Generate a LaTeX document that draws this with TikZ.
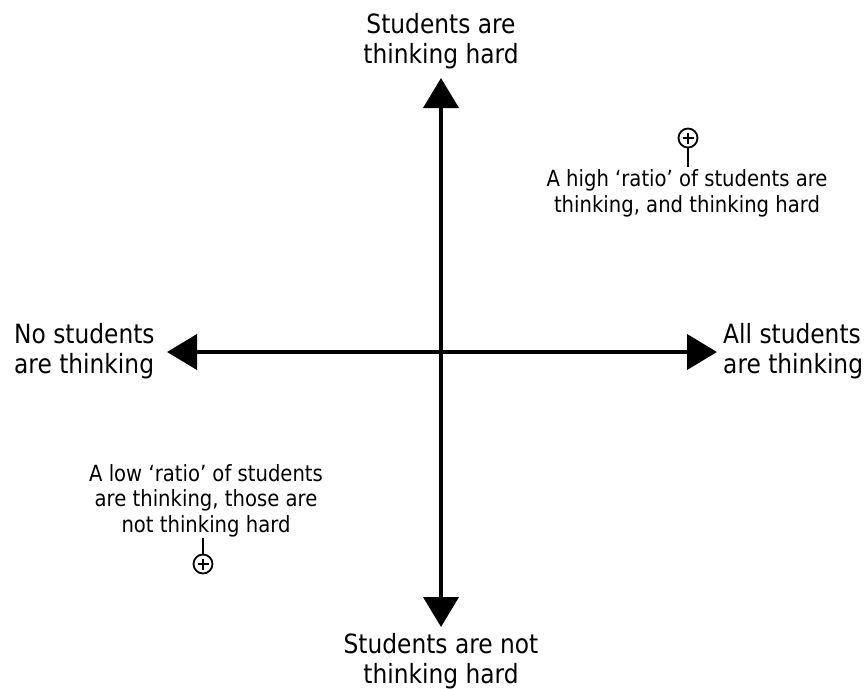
\documentclass[tikz,border=0pt]{standalone}
\usepackage{fontspec}
\setmainfont{DejaVu Sans}[FakeStretch=0.88]
\usetikzlibrary{arrows.meta}
\begin{document}
\begin{tikzpicture}[x=1pt,y=-1pt,
  axis/.style={line width=4pt,{Triangle[length=30pt,width=35pt]}-{Triangle[length=30pt,width=35pt]}},
  biglabel/.style={font=\fontsize{26.5}{30}\selectfont,inner sep=0pt,anchor=base},
  smalllabel/.style={font=\fontsize{22.3}{25.5}\selectfont,inner sep=0pt,anchor=base,align=center},
  pin/.style={circle,draw,line width=1.8pt,minimum size=19pt,inner sep=0pt},
  stem/.style={line width=1.8pt},
]
\useasboundingbox (0,0) rectangle (866,688);
\coordinate (T) at (441,78);
\coordinate (B) at (441,627);
\coordinate (L) at (167,352);
\coordinate (R) at (717,352);
\draw[axis] (T) -- (B);
\draw[axis] (L) -- (R);

\node[biglabel,align=center] (top) at (441,63) {Students are\\thinking hard};
\node[biglabel,align=left,anchor=base west] (left) at (14,373) {No students\\are thinking};
\node[biglabel,align=left,anchor=base west] (right) at (723,373) {All students\\are thinking};
\node[biglabel,align=center] (bottom) at (441,683) {Students are not\\thinking hard};

\node[smalllabel] (hi) at (687,212) {A high ‘ratio’ of students are\\thinking, and thinking hard};
\node[smalllabel] (lo) at (206,532) {A low ‘ratio’ of students\\are thinking, those are\\not thinking hard};

\node[pin] (p1) at (688,138) {};
\coordinate (s1) at (688,167);
\draw[stem] (p1.south) -- (s1);
\draw[line width=1.5pt] ([xshift=-5.5pt]p1.center) -- ([xshift=5.5pt]p1.center)
  ([yshift=-5.5pt]p1.center) -- ([yshift=5.5pt]p1.center);

\node[pin] (p2) at (203,564) {};
\coordinate (s2) at (203,538);
\draw[stem] (s2) -- (p2.north);
\draw[line width=1.5pt] ([xshift=-5.5pt]p2.center) -- ([xshift=5.5pt]p2.center)
  ([yshift=-5.5pt]p2.center) -- ([yshift=5.5pt]p2.center);
\end{tikzpicture}
\end{document}
